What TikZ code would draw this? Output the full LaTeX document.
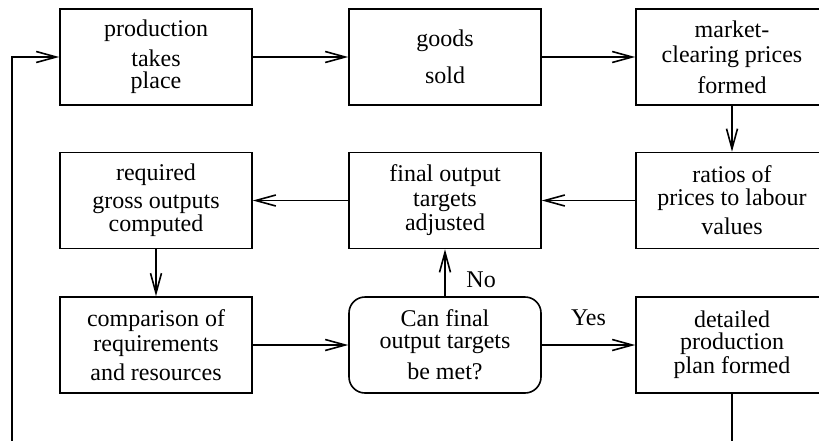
\documentclass[tikz,border=0pt]{standalone}
\usepackage{fontspec}
\setmainfont{Liberation Serif}
\usepackage{tikz}
\usetikzlibrary{arrows.meta}
\usetikzlibrary{shapes}

\begin{document}
\begin{tikzpicture}[x=0.5pt,y=-0.5pt,
    stage/.style={draw, line width=0.8pt, minimum width=96pt, minimum height=48pt,
      inner sep=0pt, align=center, font=\rmfamily\fontsize{12}{12}\selectfont},
    query/.style={stage, rounded corners=8pt},
    flow/.style={line width=0.8pt, -{Straight Barb[length=10pt,width=5.5pt]}}]
              \clip (0,0) rectangle (819,440);
              \node[stage] (prod) at (156,57) {production\\[3pt]takes\\[-1pt]place};
              \node[stage] (goods) at (445,57) {goods\\[6.5pt]sold};
              \node[stage] (market) at (732,57) {market-\\[0.5pt]clearing prices\\[3.5pt]formed};
              \node[stage] (ratios) at (732,200.5) {ratios of\\[-0.5pt]prices to labour\\[2.5pt]values};
              \node[stage] (targets) at (445,200.5) {final output\\[0.5pt]targets\\adjusted};
              \node[stage] (gross) at (156,200.5) {required\\[2pt]gross outputs\\[-0.5pt]computed};
              \node[stage] (compare) at (156,345) {comparison of\\[0.5pt]requirements\\[2.5pt]and resources};
              \node[query] (decide) at (445,345) {Can final\\[-1pt]output targets\\[3.5pt]be met?};
              \node[stage] (plan) at (732,345) {detailed\\[-1pt]production\\plan formed};
              \coordinate (back) at (12,470);
              \draw[flow] (prod) -- (goods);
              \draw[flow] (goods) -- (market);
              \draw[flow] (market) -- (ratios);
              \draw[flow] (ratios) -- (targets);
              \draw[flow] (targets) -- (gross);
              \draw[flow] (gross) -- (compare);
              \draw[flow] (compare) -- (decide);
              \draw[flow] (decide) -- node[pos=0.35, right=7pt, font=\rmfamily\fontsize{12}{12}\selectfont] {No} (targets);
              \draw[flow] (decide) -- node[above=6pt, font=\rmfamily\fontsize{12}{12}\selectfont] {Yes} (plan);
              \draw[flow] (plan.south) |- (back) |- (prod.west);
            \end{tikzpicture}
\end{document}
